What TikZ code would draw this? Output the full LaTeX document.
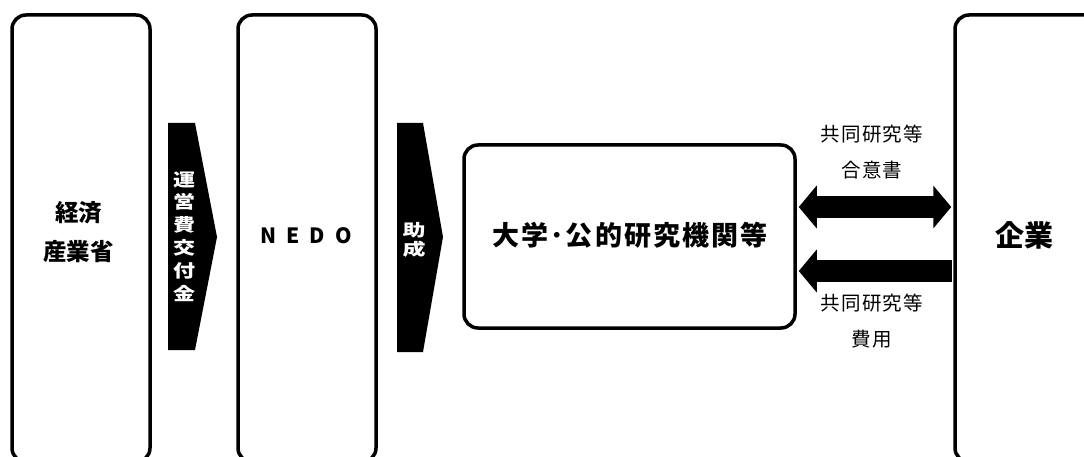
\documentclass[tikz,border=0pt]{standalone}
\usepackage{fontspec}
\setmainfont{Noto Sans CJK JP}
\usetikzlibrary{arrows.meta}
\begin{document}
\begin{tikzpicture}[x=1pt,y=-1pt,
  box/.style={draw=black,line width=3.5pt,rounded corners=14pt,fill=white,inner sep=0pt},
  chev/.style={fill=black},
  vtext/.style={text=white,inner sep=0pt},
  lbl/.style={font=\fontsize{19.5}{36}\selectfont\addfontfeature{LetterSpace=6},align=center,inner sep=0pt},
  fat/.style={line width=22pt},
  bigtip/.tip={Triangle[length=18pt,width=42pt]}]
\useasboundingbox (0,0) rectangle (1084,457);
\clip (0,0) rectangle (1084,457);
% boxes
\node[box,minimum width=138pt,minimum height=447pt] (meti) at (81,238.5) {};
\node[font=\fontsize{23.5}{39}\selectfont\bfseries,align=center,inner sep=0pt] (metit) at (78.5,232) {経済\\産業省};
\node[box,minimum width=138pt,minimum height=447pt] (nedo) at (307,238.5) {};
\node[font=\fontsize{21}{24}\selectfont\bfseries,inner sep=0pt] (nedot) at (306,236) {N\hspace{10pt}E\hspace{10pt}D\hspace{10pt}O};
\node[box,minimum width=331pt,minimum height=183pt] (univ) at (629.5,236.5) {};
\node[font=\fontsize{27}{30}\selectfont\bfseries\addfontfeature{LetterSpace=8},inner sep=0pt] (univt) at (630,235) {大学･公的研究機関等};
\node[box,minimum width=160pt,minimum height=447pt] (corp) at (1035,238.5) {};
\node[font=\fontsize{29}{32}\selectfont\bfseries,inner sep=0pt] (corpt) at (1024,235) {企業};
% chevrons
\fill[chev] (168,123) -- (195,123) -- (217,237) -- (195,350) -- (168,350) -- cycle;
\node[vtext] (a1) at (184.5,238.5) {\scalebox{1}[0.8]{\fontsize{22}{28.5}\selectfont\bfseries\begin{tabular}{@{}c@{}}運\\営\\費\\交\\付\\金\end{tabular}}};
\fill[chev] (397,123) -- (423,123) -- (443,237) -- (423,352) -- (397,352) -- cycle;
\node[vtext] (a2) at (414,241.5) {\scalebox{1}[0.72]{\fontsize{23}{23}\selectfont\bfseries\begin{tabular}{@{}c@{}}助\\成\end{tabular}}};
% connectors
\coordinate (yA) at (0,207);
\coordinate (yB) at (0,271);
\draw[fat,{bigtip}-{bigtip}] ([xshift=2pt]univ.east |- yA) -- ([xshift=-2pt]corp.west |- yA);
\draw[fat,{bigtip}-] ([xshift=2pt]univ.east |- yB) -- ([xshift=-1pt]corp.west |- yB);
\node[lbl] (l1) at (872,152) {共同研究等\\合意書};
\node[lbl] (l2) at (872,321) {共同研究等\\費用};
\end{tikzpicture}
\end{document}
